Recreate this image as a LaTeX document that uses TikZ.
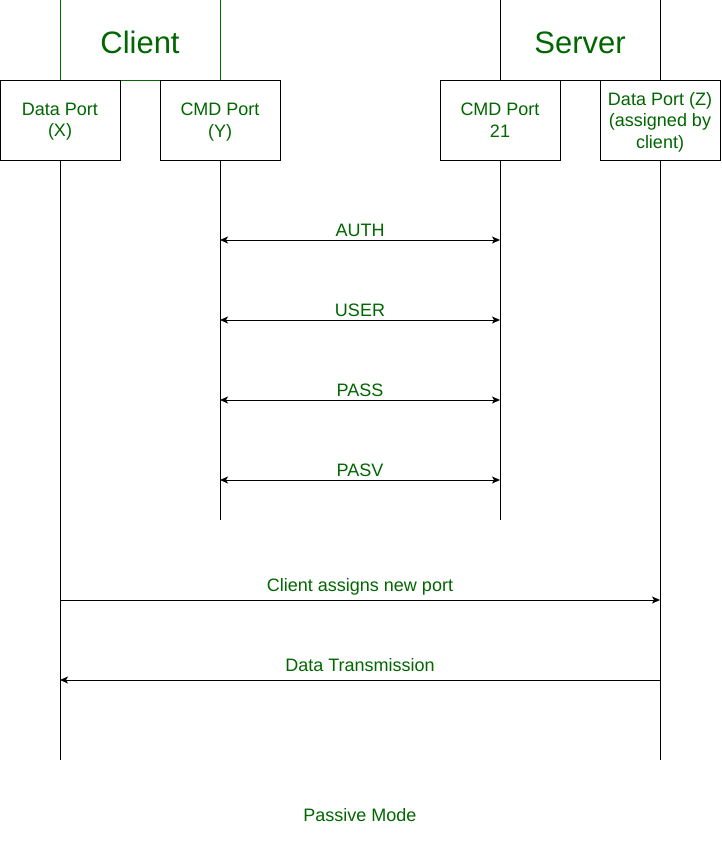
\documentclass[tikz,border=0pt]{standalone}
\usepackage{fontspec}
\setmainfont{Liberation Sans}
\usetikzlibrary{arrows.meta}
\definecolor{gtext}{HTML}{006600}
\tikzset{
  box/.style={draw=black, line width=1pt, fill=white, minimum width=120pt, minimum height=80pt, inner sep=0pt, outer sep=0pt, align=center, text=gtext, text depth=0pt, font=\fontsize{18}{21.5}\selectfont},
  bigbox/.style={draw=black, line width=1pt, minimum width=160pt, minimum height=80pt, inner sep=0pt, outer sep=0pt, text=gtext, text height=26pt, text depth=0pt, font=\fontsize{31}{36}\selectfont},
  life/.style={draw=black, line width=1pt},
  msg/.style={draw=black, line width=1pt},
  tip/.style={-{Stealth[length=8pt,width=7pt,inset=2pt]}},
  biptip/.style={{Stealth[length=8pt,width=7pt,inset=2pt]}-{Stealth[length=8pt,width=7pt,inset=2pt]}},
  lbl/.style={text=gtext, font=\fontsize{18}{21}\selectfont, inner sep=0pt, anchor=base}
}
\begin{document}
\begin{tikzpicture}[x=1pt, y=-1pt]
\useasboundingbox (0,0) rectangle (721,851);
% header boxes
\node[bigbox, draw=gtext] (client) at (140,40) {Client};
\node[bigbox] (server) at (580,40) {Server};
% port boxes
\node[box] (dx) at (60,120) {Data Port\\(X)};
\node[box] (cy) at (220,120) {CMD Port\\(Y)};
\node[box] (s21) at (500,120) {CMD Port\\21};
\node[box] (dz) at (660,120) {Data Port (Z)\\(assigned by\\client)};
% lifeline ends
\coordinate (dxend) at (60,760);
\coordinate (cyend) at (220,520);
\coordinate (s21end) at (500,520);
\coordinate (dzend) at (660,760);
\draw[life] (dx.south) -- (dxend);
\draw[life] (cy.south) -- (cyend);
\draw[life] (s21.south) -- (s21end);
\draw[life] (dz.south) -- (dzend);
% message points
\coordinate (authL) at (220,240); \coordinate (authR) at (500,240);
\coordinate (userL) at (220,320); \coordinate (userR) at (500,320);
\coordinate (passL) at (220,400); \coordinate (passR) at (500,400);
\coordinate (pasvL) at (220,480); \coordinate (pasvR) at (500,480);
\coordinate (newL) at (60,600); \coordinate (newR) at (660,600);
\coordinate (dataL) at (60,680); \coordinate (dataR) at (660,680);
\draw[msg, biptip] (authL) -- (authR);
\draw[msg, biptip] (userL) -- (userR);
\draw[msg, biptip] (passL) -- (passR);
\draw[msg, biptip] (pasvL) -- (pasvR);
\draw[msg, tip] (newL) -- (newR);
\draw[msg, tip] (dataR) -- (dataL);
% labels
\node[lbl] (lauth) at (360,236) {AUTH};
\node[lbl] (luser) at (360,316) {USER};
\node[lbl] (lpass) at (360,396) {PASS};
\node[lbl] (lpasv) at (360,476) {PASV};
\node[lbl] (lnew) at (360,591) {Client assigns new port};
\node[lbl] (ldata) at (360,671) {Data Transmission};
\node[lbl] (lmode) at (360,821) {Passive Mode};
\end{tikzpicture}
\end{document}
